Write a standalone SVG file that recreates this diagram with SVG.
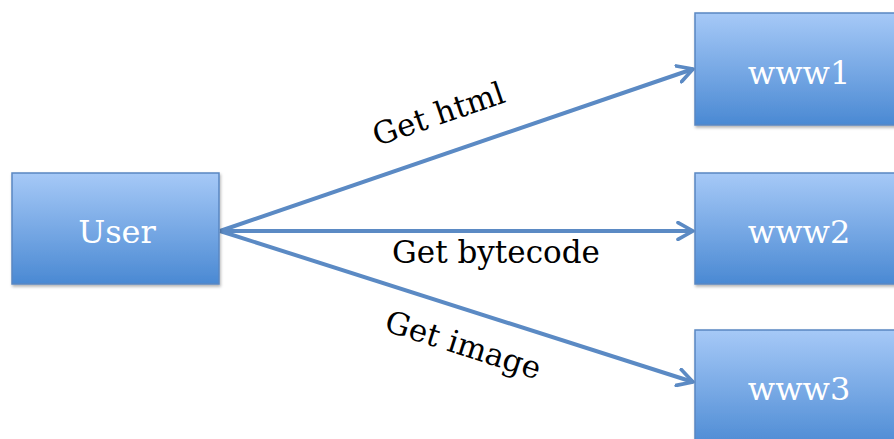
<svg xmlns="http://www.w3.org/2000/svg" width="894" height="439" viewBox="0 0 894 439">
<defs>
<linearGradient id="g" x1="0" y1="0" x2="0" y2="1">
<stop offset="0" stop-color="#a6c9f7"/>
<stop offset="1" stop-color="#4a89d3"/>
</linearGradient>
<filter id="sh" x="-10%" y="-10%" width="130%" height="130%">
<feDropShadow dx="1" dy="2" stdDeviation="1.5" flood-color="#000" flood-opacity="0.3"/>
</filter>
<marker id="ah" viewBox="0 0 12 12" refX="10" refY="6" markerWidth="5" markerHeight="5" orient="auto" markerUnits="strokeWidth">
<path d="M1,1 L10,6 L1,11" fill="none" stroke="#5b8ac4" stroke-width="2.2" stroke-linecap="round" stroke-linejoin="round"/>
</marker>
</defs>
<style>
.box{fill:url(#g);stroke:#5a87c2;stroke-width:1.5;filter:url(#sh)}
.bt{font-family:"DejaVu Serif","Liberation Serif",serif;font-size:32px;fill:#fff;text-anchor:middle}
.lb{font-family:"DejaVu Serif","Liberation Serif",serif;font-size:31px;fill:#000;text-anchor:middle}
.c{stroke:#5b8ac4;stroke-width:4;fill:none;marker-end:url(#ah)}
</style>
<rect width="894" height="439" fill="#fff"/>
<g id="connectors">
<line class="c" x1="220" y1="231" x2="693" y2="69"/>
<line class="c" x1="220" y1="231" x2="693" y2="231"/>
<line class="c" x1="220" y1="231" x2="693" y2="382"/>
<text class="lb" transform="translate(442,124) rotate(-18.9)">Get html</text>
<text class="lb" x="496" y="263">Get bytecode</text>
<text class="lb" transform="translate(460,355) rotate(17.7)">Get image</text>
</g>
<g id="user">
<rect class="box" x="12" y="173" width="207" height="111"/>
<text class="bt" x="117" y="243">User</text>
</g>
<g id="www1">
<rect class="box" x="695" y="13" width="210" height="112"/>
<text class="bt" x="799" y="84">www1</text>
</g>
<g id="www2">
<rect class="box" x="695" y="173" width="210" height="111"/>
<text class="bt" x="799" y="243">www2</text>
</g>
<g id="www3">
<rect class="box" x="695" y="330" width="210" height="120"/>
<text class="bt" x="799" y="400">www3</text>
</g>
</svg>
